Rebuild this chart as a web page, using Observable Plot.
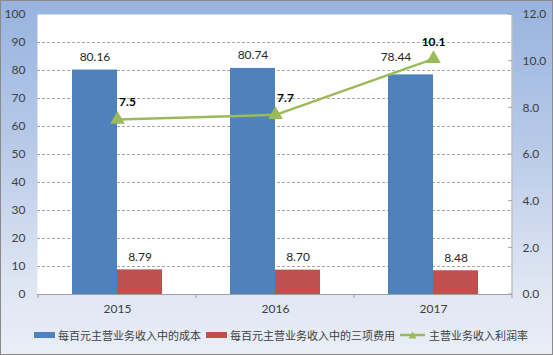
<!DOCTYPE html>
<html><head><meta charset="utf-8">
<script src="https://cdn.jsdelivr.net/npm/d3@7"></script>
<script src="https://cdn.jsdelivr.net/npm/@observablehq/plot@0.6"></script>
<style>
body{margin:0;}
#chart{position:relative;width:553px;height:355px;box-sizing:border-box;
  background:linear-gradient(to bottom,#97b3df 0%,#bccce9 45%,#dfe6f3 80%,#e9eef7 100%);
  box-shadow:inset 0 0 0 1px #8a8a8a;overflow:hidden;}
#plot{position:absolute;left:0;top:0;}
#legend{position:absolute;left:34px;top:327px;display:flex;align-items:center;
  font-family:"Noto Sans CJK SC",sans-serif;font-size:11px;color:#404040;line-height:16px;white-space:nowrap;}
.sw{display:inline-block;width:21px;height:6px;margin-right:3px;}
.item{display:flex;align-items:center;margin-right:5px;}
</style></head><body>
<div id="chart"><div id="plot"></div><div id="legend"></div></div>
<script>
const years = ["2015", "2016", "2017"];
const costPer100 = [80.16, 80.74, 78.44];
const feePer100 = [8.79, 8.70, 8.48];
const profitRate = [7.5, 7.7, 10.1];
const leftTicks = [0, 10, 20, 30, 40, 50, 60, 70, 80, 90, 100];
const rightTicks = [0, 2, 4, 6, 8, 10, 12];
const seriesNames = ["每百元主营业务收入中的成本", "每百元主营业务收入中的三项费用", "主营业务收入利润率"];

const blue = "#4F81BD", red = "#C0504D", green = "#9BBB59";
const leftMax = 100, rightMax = 12;
const toLeft = v => v * leftMax / rightMax;

const cost = years.map((y, i) => ({year: y, value: costPer100[i], idx: i}));
const fee = years.map((y, i) => ({year: y, value: feePer100[i]}));
const rate = years.map((y, i) => ({year: y, value: profitRate[i], idx: i}));

const font = "'Liberation Sans Narrow', Lato, sans-serif";

function frameDecor(index, scales, values, dims) {
  const g = d3.create("svg:g");
  const xr = dims.width - dims.marginRight;
  const yb = dims.height - dims.marginBottom;
  const yt = dims.marginTop;
  g.append("line").attr("x1", xr).attr("x2", xr).attr("y1", yt).attr("y2", yb).attr("stroke", "#a0a0a0");
  for (const t of rightTicks) {
    const y = scales.y(toLeft(t));
    g.append("line").attr("x1", xr - 4).attr("x2", xr).attr("y1", y).attr("y2", y).attr("stroke", "#a0a0a0");
  }
  const xs = years.map(y => scales.x(y));
  xs.push(xs[xs.length - 1] + (xs[1] - xs[0]));
  for (const x of xs) {
    g.append("line").attr("x1", x).attr("x2", x).attr("y1", yb).attr("y2", yb + 4).attr("stroke", "#a0a0a0");
  }
  return g.node();
}

const plot = Plot.plot({
  width: 553,
  height: 318,
  marginLeft: 37,
  marginRight: 41,
  marginTop: 14,
  marginBottom: 24,
  style: {background: "transparent", fontFamily: font, fontSize: "12px", color: "#404040"},
  x: {type: "band", domain: years, padding: 0, axis: null},
  y: {domain: [0, leftMax], axis: null},
  marks: [
    Plot.frame({fill: "white", stroke: "none"}),
    Plot.gridY(leftTicks.filter(d => d > 0 && d < leftMax), {stroke: "#a6a6a6", strokeOpacity: 1, strokeDasharray: "3,2"}),
    Plot.barY(cost, {x: "year", y: "value", fill: blue, insetLeft: 34, insetRight: 79}),
    Plot.barY(fee, {x: "year", y: "value", fill: red, insetLeft: 79, insetRight: 34}),
    Plot.ruleY([0], {stroke: "#a0a0a0"}),
    frameDecor,
    Plot.text(cost.filter(d => d.idx < 2), {x: "year", y: "value", text: d => d.value.toFixed(2), dx: -22.5, dy: -13, fill: "#262626", fontSize: 12}),
    Plot.text(cost.filter(d => d.idx >= 2), {x: "year", y: "value", text: d => d.value.toFixed(2), dx: -37.5, dy: -18, fill: "#262626", fontSize: 12}),
    Plot.text(fee, {x: "year", y: "value", text: d => d.value.toFixed(2), dx: 22.5, dy: -13, fill: "#262626", fontSize: 12}),
    Plot.line(rate, {x: "year", y: d => toLeft(d.value), stroke: green, strokeWidth: 2.5}),
    Plot.dot(rate, {x: "year", y: d => toLeft(d.value), symbol: "triangle", fill: green, stroke: green, r: 4.5}),
    Plot.text(rate.filter(d => d.idx < 2), {x: "year", y: d => toLeft(d.value), text: d => d.value.toFixed(1), dx: 10, dy: -17, fontWeight: "bold", fill: "#000", fontSize: 12}),
    Plot.text(rate.filter(d => d.idx >= 2), {x: "year", y: d => toLeft(d.value), text: d => d.value.toFixed(1), dx: 0, dy: -17, fontWeight: "bold", fill: "#000", fontSize: 12}),
    Plot.axisY(leftTicks, {anchor: "left", label: null, tickSize: 0, tickPadding: 12, fontSize: 12, fill: "#404040"}),
    Plot.axisY(rightTicks.map(toLeft), {anchor: "right", label: null, tickSize: 0, tickPadding: 10, tickFormat: d => (d * rightMax / leftMax).toFixed(1), fontSize: 12, fill: "#404040"}),
    Plot.axisX({label: null, tickSize: 0, tickPadding: 10, fontSize: 12, fill: "#404040"})
  ]
});
document.getElementById("plot").append(plot);

const legend = document.getElementById("legend");
const colors = [blue, red];
seriesNames.forEach((name, i) => {
  const item = document.createElement("span");
  item.className = "item";
  if (i < 2) {
    item.innerHTML = `<span class="sw" style="background:${colors[i]}"></span><span>${name}</span>`;
  } else {
    item.innerHTML = `<svg width="25" height="10" style="margin-right:4px"><line x1="0" x2="25" y1="5" y2="5" stroke="${green}" stroke-width="2.5"/><path d="M12.5,1.5 L16.5,8.5 L8.5,8.5 Z" fill="${green}"/></svg><span>${name}</span>`;
  }
  legend.append(item);
});
</script>
</body></html>
